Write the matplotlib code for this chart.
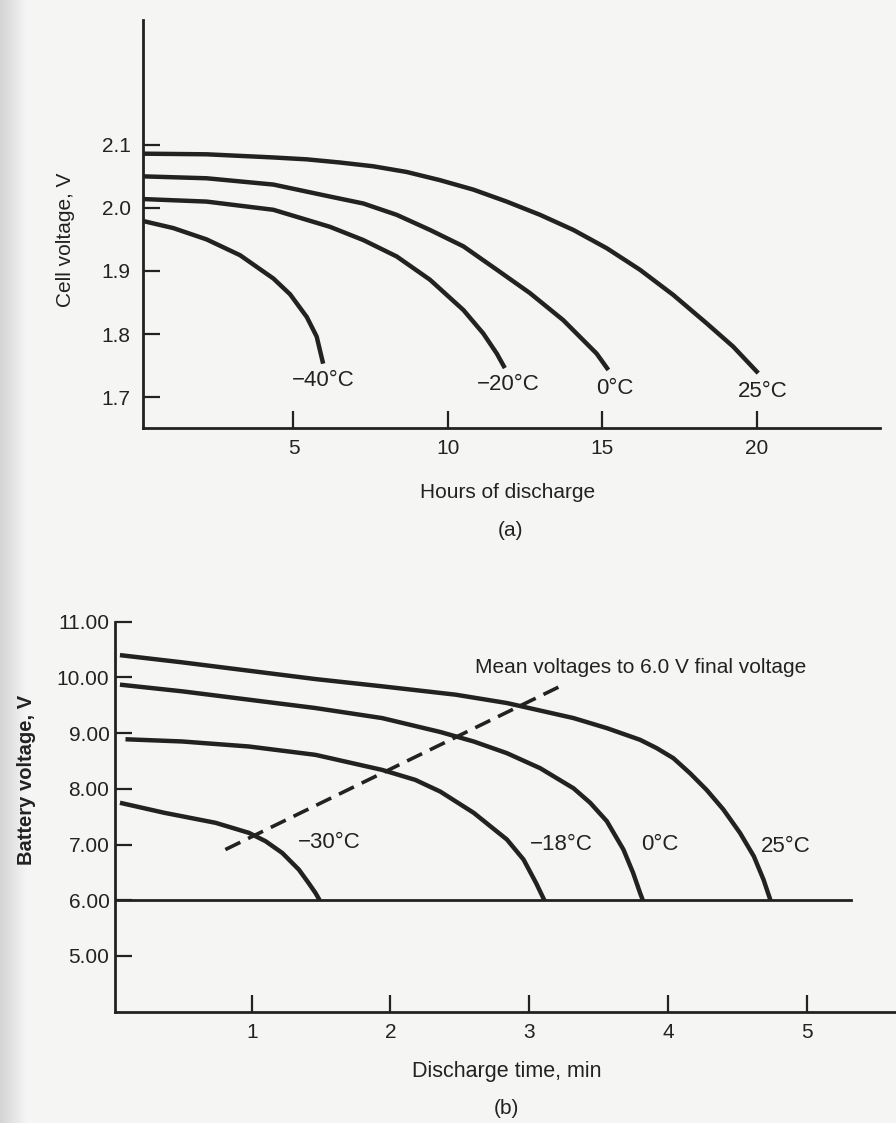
import numpy as np
import matplotlib
matplotlib.use("Agg")
import matplotlib.pyplot as plt

plt.rcParams['font.family'] = ['Liberation Sans', 'DejaVu Sans']

# ---- panel (a): cell voltage vs hours of discharge ----
a_labels = ["\u221240\u00b0C", "\u221220\u00b0C", "0\u00b0C", "25\u00b0C"]
a_hours = [
    [0.15, 1.11, 2.19, 3.27, 4.35, 4.89, 5.43, 5.75, 5.96],
    [0.15, 2.19, 4.35, 6.18, 7.26, 8.34, 9.42, 10.50, 11.14, 11.58, 11.84],
    [0.15, 2.19, 4.35, 6.18, 7.26, 8.34, 9.42, 10.50, 11.58, 12.65, 13.73, 14.81, 15.19],
    [0.15, 2.19, 4.35, 5.43, 6.50, 7.58, 8.66, 9.74, 10.82, 11.9, 12.98,
     14.06, 15.14, 16.21, 17.29, 18.37, 19.23, 20.04],
]
a_volts = [
    [1.979, 1.968, 1.950, 1.925, 1.888, 1.863, 1.827, 1.796, 1.753],
    [2.014, 2.010, 1.997, 1.970, 1.949, 1.923, 1.886, 1.838, 1.801, 1.769, 1.746],
    [2.050, 2.047, 2.037, 2.018, 2.007, 1.989, 1.965, 1.939, 1.902, 1.865, 1.822, 1.769, 1.743],
    [2.086, 2.085, 2.080, 2.077, 2.072, 2.066, 2.057, 2.044, 2.029, 2.010, 1.989,
     1.965, 1.936, 1.902, 1.862, 1.817, 1.780, 1.738],
]
a_label_pos = [(5.97, 1.717), (11.95, 1.711), (15.4, 1.705), (20.2, 1.700)]
a_xticks = [5, 10, 15, 20]
a_yticks = [1.7, 1.8, 1.9, 2.0, 2.1]

# ---- panel (b): battery voltage vs discharge time ----
b_labels = ["\u221230\u00b0C", "\u221218\u00b0C", "0\u00b0C", "25\u00b0C"]
b_time = [
    [0.05, 0.37, 0.74, 0.98, 1.10, 1.22, 1.34, 1.41, 1.46, 1.49],
    [0.09, 0.50, 0.98, 1.46, 1.94, 2.18, 2.36, 2.60, 2.84, 2.96, 3.05, 3.11],
    [0.05, 0.50, 0.98, 1.46, 1.94, 2.36, 2.60, 2.84, 3.08, 3.32, 3.44, 3.56,
     3.68, 3.75, 3.80, 3.82],
    [0.05, 0.50, 0.98, 1.46, 1.94, 2.47, 2.84, 3.32, 3.56, 3.80, 3.92, 4.04,
     4.16, 4.28, 4.40, 4.52, 4.62, 4.69, 4.74],
]
b_volts = [
    [7.75, 7.57, 7.39, 7.21, 7.06, 6.85, 6.55, 6.31, 6.13, 6.0],
    [8.89, 8.85, 8.76, 8.61, 8.34, 8.16, 7.95, 7.57, 7.09, 6.73, 6.31, 6.0],
    [9.87, 9.75, 9.60, 9.45, 9.27, 9.02, 8.85, 8.64, 8.37, 8.01, 7.75, 7.42,
     6.91, 6.49, 6.13, 6.0],
    [10.40, 10.27, 10.12, 9.97, 9.84, 9.69, 9.54, 9.27, 9.09, 8.88, 8.73, 8.55,
     8.28, 7.98, 7.63, 7.21, 6.79, 6.37, 6.0],
]
b_label_pos = [(1.56, 6.94), (3.23, 6.91), (3.94, 6.91), (4.85, 6.87)]
mean_t = [0.81, 3.24]
mean_v = [6.91, 9.86]
final_v = 6.0
final_t_end = 5.32
b_xticks = [1, 2, 3, 4, 5]
b_yticks = [5.0, 6.0, 7.0, 8.0, 9.0, 10.0, 11.0]

ink = "#222222"
bg = "#f5f5f4"

fig = plt.figure(figsize=(8.96, 11.23), dpi=100, facecolor=bg)

# scanner shadow on the left edge
shade = fig.add_axes([0, 0, 0.03, 1], zorder=-5)
grad = np.linspace(0.83, 0.96, 64).reshape(1, -1)
shade.imshow(grad, aspect='auto', cmap='gray', vmin=0, vmax=1, extent=[0, 1, 0, 1])
shade.axis('off')


def style_axes(ax, xpad, ypad):
    ax.set_facecolor('none')
    for s in ['top', 'right']:
        ax.spines[s].set_visible(False)
    for s in ['left', 'bottom']:
        ax.spines[s].set_linewidth(2.0)
        ax.spines[s].set_color(ink)
    ax.tick_params(axis='both', direction='in', length=12, width=1.6,
                   colors=ink, labelsize=15)
    ax.tick_params(axis='x', pad=xpad)
    ax.tick_params(axis='y', pad=ypad)


# (a)
ax1 = fig.add_axes([0.1596, 0.6189, 0.8225, 0.3633])
style_axes(ax1, 8, 9)
for hx, vy in zip(a_hours, a_volts):
    ax1.plot(hx, vy, color=ink, lw=3.2, solid_capstyle='butt', solid_joinstyle='round')
for lab, (lx, ly) in zip(a_labels, a_label_pos):
    ax1.text(lx, ly, lab, ha='center', va='baseline', fontsize=16, color=ink)
ax1.set_xlim(0.13, 23.98)
ax1.set_ylim(1.651, 2.298)
ax1.set_xticks(a_xticks)
ax1.set_xticklabels([str(v) for v in a_xticks])
ax1.set_yticks(a_yticks)
ax1.set_yticklabels(["%.1f" % v for v in a_yticks])

fig.text(65 / 896, 1 - 240 / 1123, "Cell voltage, V", rotation=90,
         ha='center', va='center', fontsize=15, color=ink)
fig.text(508 / 896, 1 - 492 / 1123, "Hours of discharge",
         ha='center', va='center', fontsize=15, color=ink)
fig.text(510 / 896, 1 - 530 / 1123, "(a)",
         ha='center', va='center', fontsize=15, color=ink)

# (b)
ax2 = fig.add_axes([0.1283, 0.0991, 0.8717, 0.3473])
style_axes(ax2, 8, 4)
for tx, vy in zip(b_time, b_volts):
    ax2.plot(tx, vy, color=ink, lw=3.2, solid_capstyle='butt', solid_joinstyle='round')
ax2.plot([0.014, final_t_end], [final_v, final_v], color=ink, lw=2.0)
dash, = ax2.plot(mean_t, mean_v, color=ink, lw=2.6)
dash.set_dashes((4.6, 2.4))
for lab, (lx, ly) in zip(b_labels, b_label_pos):
    ax2.text(lx, ly, lab, ha='center', va='baseline', fontsize=16, color=ink)
ax2.text(2.61, 10.08, "Mean voltages to 6.0 V final voltage",
         ha='left', va='baseline', fontsize=15, color=ink)
ax2.set_xlim(0.014, 5.645)
ax2.set_ylim(4.0, 11.0)
ax2.set_xticks(b_xticks)
ax2.set_xticklabels([str(v) for v in b_xticks])
ax2.set_yticks(b_yticks)
ax2.set_yticklabels(["%.2f" % v for v in b_yticks])

fig.text(27 / 896, 1 - 780 / 1123, "Battery voltage, V", rotation=90,
         ha='center', va='center', fontsize=14.5, fontweight='bold', color=ink)
fig.text(507 / 896, 1 - 1072 / 1123, "Discharge time, min",
         ha='center', va='center', fontsize=15.5, color=ink)
fig.text(506 / 896, 1 - 1108 / 1123, "(b)",
         ha='center', va='center', fontsize=15, color=ink)

fig.savefig("out.png", dpi=100, facecolor=bg)
